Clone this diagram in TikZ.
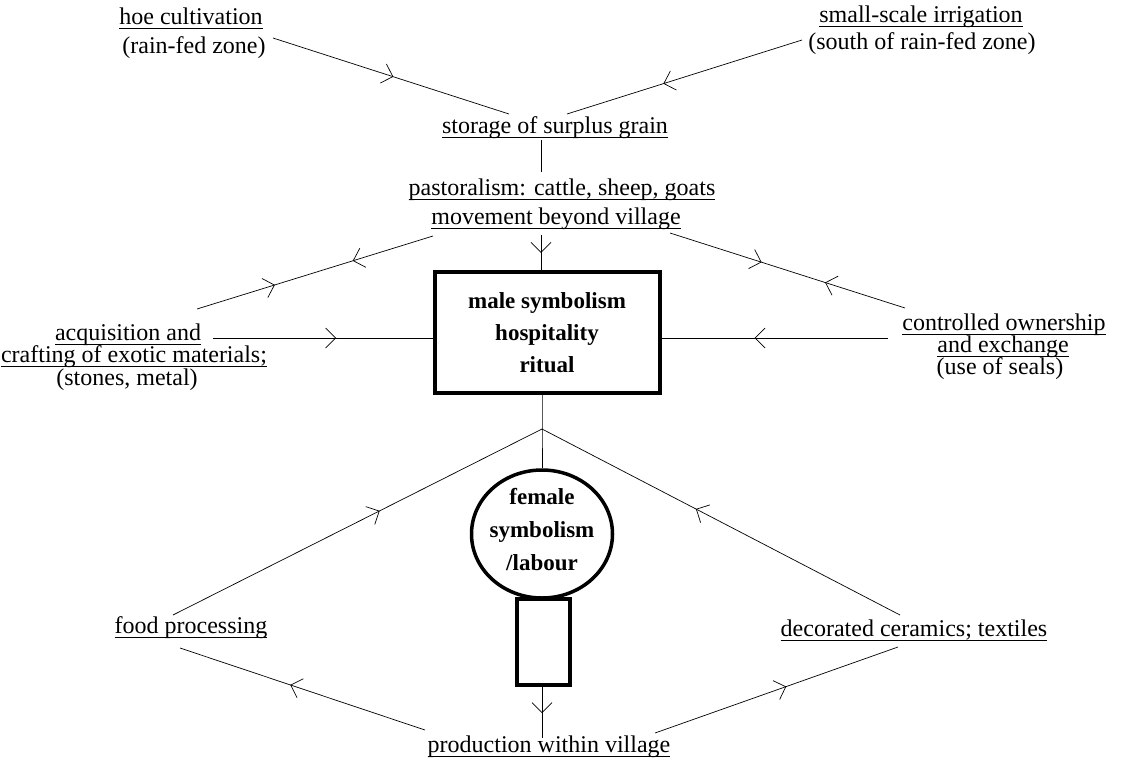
\documentclass[tikz,border=0pt]{standalone}
\usepackage{fontspec}
\setmainfont{Liberation Serif}
\usetikzlibrary{arrows.meta,decorations.markings,shapes.geometric}
\newcommand{\undl}[1]{\setbox0\hbox{#1}\rlap{\rule[-5pt]{\wd0}{1.3pt}}\box0}

\begin{document}
\begin{tikzpicture}[x=1pt,y=-1pt,
  txt/.style={inner sep=0pt,anchor=base,font=\fontsize{24}{26}\selectfont},
  bld/.style={inner sep=0pt,anchor=base,font=\fontsize{23}{26}\selectfont\bfseries},
  ln/.style={line width=0.7pt},
  fwd/.style={postaction={decorate,decoration={markings,mark=at position #1 with {\arrow[line width=0.7pt]{Straight Barb[length=10pt,width=20pt]}}}}},
  bwd/.style={postaction={decorate,decoration={markings,mark=at position #1 with {\arrowreversed[line width=0.7pt]{Straight Barb[length=10pt,width=20pt]}}}}}]
\useasboundingbox (0,0) rectangle (1122,766);
\node[txt] (hoe) at (191,24) {\undl{hoe cultivation}};
\node[txt] (hoezone) at (194,53) {(rain-fed zone)};
\node[txt] (irr) at (921,22) {\undl{small-scale irrigation}};
\node[txt] (irrzone) at (922,49) {(south of rain-fed zone)};
\node[txt] (grain) at (555,133) {\undl{storage of surplus grain}};
\node[txt] (past) at (562,195) {\undl{pastoralism: cattle, sheep, goats}};
\node[txt] (move) at (556,224) {\undl{movement beyond village}};
\node[txt] (acq) at (128,340) {\undl{acquisition and}};
\node[txt] (craft) at (134,362) {\undl{crafting of exotic materials;}};
\node[txt] (stones) at (127,385) {(stones, metal)};
\node[txt] (ctl) at (1004,330) {\undl{controlled ownership}};
\node[txt] (exch) at (1003,352) {\undl{and exchange}};
\node[txt] (seals) at (1000,374) {(use of seals)};
\node[txt] (food) at (191,633) {\undl{food processing}};
\node[txt] (deco) at (914,636) {\undl{decorated ceramics; textiles}};
\node[txt] (prod) at (549,752) {\undl{production within village}};

\node[draw,line width=4pt,minimum width=225pt,minimum height=121pt] (male) at (547.5,332.5) {};
\node[bld] (male1) at (547,308) {male symbolism};
\node[bld] (male2) at (547,340) {hospitality};
\node[bld] (male3) at (547,372) {ritual};

\node[draw,ellipse,line width=3.5pt,minimum width=141pt,minimum height=128pt] (fem) at (542,534) {};
\node[draw,line width=4pt,minimum width=53pt,minimum height=86pt] (stem) at (543.5,642) {};
\begin{scope}
\clip (stem.north west) rectangle (stem.south east);
\fill (fem.center) ellipse [x radius=70.5pt,y radius=64pt];
\end{scope}
\node[bld] (fem1) at (542,504) {female};
\node[bld] (fem2) at (542,537) {symbolism};
\node[bld] (fem3) at (542,570) {/labour};

\coordinate (hoeend) at (273,38);
\coordinate (irrend) at (802,40);
\coordinate (grainl) at (509,114);
\coordinate (grainr) at (567,114);
\coordinate (grainb) at (541,140);
\coordinate (pastt) at (541,172);
\coordinate (moveb) at (541,235);
\coordinate (movel) at (433,236);
\coordinate (mover) at (670,233);
\coordinate (acqt) at (197,309);
\coordinate (ctlt) at (905,308);
\coordinate (acqr) at (213,338);
\coordinate (ctll) at (888,338);
\coordinate (jn) at (542,429);
\coordinate (foodt) at (173,615);
\coordinate (decot) at (900,615);
\coordinate (foodb) at (180,648);
\coordinate (decob) at (898,647);
\coordinate (prodl) at (425,730);
\coordinate (prodr) at (655,733);
\coordinate (prodt) at (542,738);

\draw[ln,fwd=0.51] (hoeend) -- (grainl);
\draw[ln,fwd=0.59] (irrend) -- (grainr);
\draw[ln] (grainb) -- (pastt);
\draw[ln,fwd=0.51] (moveb) -- (male.north -| moveb);
\draw[ln,fwd=0.34,bwd=0.67] (movel) -- (acqt);
\draw[ln,fwd=0.39,bwd=0.66] (mover) -- (ctlt);
\draw[ln,fwd=0.56] (acqr) -- (male.west |- acqr);
\draw[ln,fwd=0.59] (ctll) -- (male.east |- ctll);
\draw[ln] (male.south -| jn) -- (jn) -- (fem.north -| jn);
\draw[ln,bwd=0.44] (jn) -- (foodt);
\draw[ln,bwd=0.43] (jn) -- (decot);
\draw[ln,bwd=0.45] (foodb) -- (prodl);
\draw[ln,bwd=0.46] (decob) -- (prodr);
\draw[ln,fwd=0.51] (stem.south -| jn) -- (prodt);
\end{tikzpicture}
\end{document}
